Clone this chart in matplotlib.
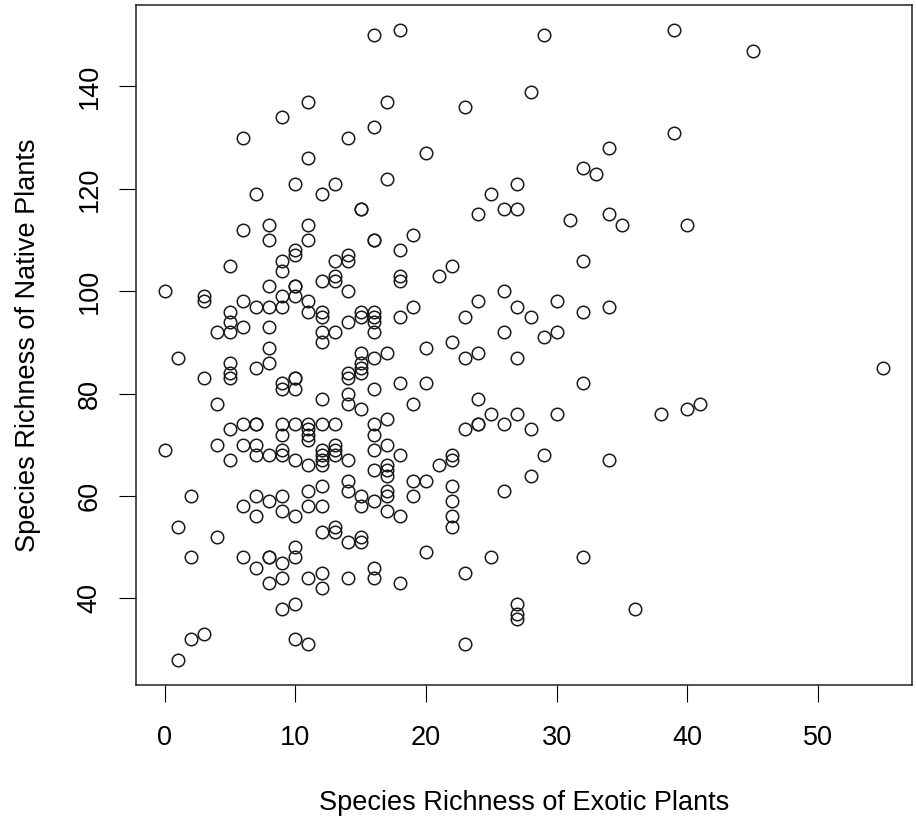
import matplotlib
matplotlib.use("Agg")
import matplotlib.pyplot as plt

# species richness per site, grouped by number of exotic species
exotic = ([0] * 2 + [1] * 3 + [2] * 3 + [3] * 4 + [4] * 4 + [5] * 9 + [6] * 8 + [7] * 10
          + [8] * 12 + [9] * 16 + [10] * 16 + [11] * 15 + [12] * 17 + [13] * 11
          + [14] * 14 + [15] * 13 + [16] * 17 + [17] * 11 + [18] * 9 + [19] * 5
          + [20] * 5 + [21] * 2 + [22] * 8 + [23] * 6 + [24] * 6 + [25] * 3
          + [26] * 5 + [27] * 8 + [28] * 4 + [29] * 3 + [30] * 3 + [31] * 1
          + [32] * 5 + [33] * 1 + [34] * 4 + [35] * 1 + [36] * 1 + [38] * 1
          + [39] * 2 + [40] * 2 + [41] * 1 + [45] * 1 + [55] * 1)

native = [
    100, 69,
    87, 54, 28,
    60, 48, 32,
    99, 98, 83, 33,
    92, 78, 70, 52,
    105, 96, 94, 92, 86, 84, 83, 73, 67,
    130, 112, 98, 93, 74, 70, 58, 48,
    119, 97, 85, 74, 74, 70, 68, 60, 56, 46,
    113, 110, 101, 97, 93, 89, 86, 68, 59, 48, 48, 43,
    134, 106, 104, 99, 97, 82, 81, 74, 72, 69, 68, 60, 57, 47, 44, 38,
    121, 108, 107, 101, 101, 99, 83, 83, 81, 74, 67, 56, 50, 48, 39, 32,
    137, 126, 113, 110, 98, 96, 74, 73, 72, 71, 66, 61, 58, 44, 31,
    119, 102, 96, 95, 92, 90, 79, 74, 69, 68, 67, 66, 62, 58, 53, 45, 42,
    121, 106, 103, 102, 92, 74, 70, 69, 68, 54, 53,
    130, 107, 106, 100, 94, 84, 83, 80, 78, 67, 63, 61, 51, 44,
    116, 116, 96, 95, 88, 86, 85, 84, 77, 60, 58, 52, 51,
    150, 132, 110, 110, 96, 95, 94, 92, 87, 81, 74, 72, 69, 65, 59, 46, 44,
    137, 122, 88, 75, 70, 66, 65, 64, 61, 60, 57,
    151, 108, 103, 102, 95, 82, 68, 56, 43,
    111, 97, 78, 63, 60,
    127, 89, 82, 63, 49,
    103, 66,
    105, 90, 68, 67, 62, 59, 56, 54,
    136, 95, 87, 73, 45, 31,
    115, 98, 88, 79, 74, 74,
    119, 76, 48,
    116, 100, 92, 74, 61,
    121, 116, 97, 87, 76, 39, 37, 36,
    139, 95, 73, 64,
    150, 91, 68,
    98, 92, 76,
    114,
    124, 106, 96, 82, 48,
    123,
    128, 115, 97, 67,
    113,
    38,
    76,
    151, 131,
    113, 77,
    78,
    147,
    85,
]

x_ticks = [0, 10, 20, 30, 40, 50]
y_ticks = [40, 60, 80, 100, 120, 140]

plt.rcParams['font.family'] = ['Liberation Sans', 'DejaVu Sans']

fig = plt.figure(figsize=(9.16, 8.19), dpi=100)
ax = fig.add_axes([136 / 916, 1 - 685 / 819, 776 / 916, 680 / 819])

ax.plot(exotic, native, 'o', ms=9.0, mfc='none', mec='#1a1a1a', mew=1.1)

ax.set_xlim(-2.2, 57.2)
ax.set_ylim(23.08, 155.92)
ax.set_xticks(x_ticks)
ax.set_yticks(y_ticks)

for s in ax.spines.values():
    s.set_linewidth(1.1)
    s.set_color('#222222')

ax.tick_params(axis='both', direction='out', length=12, width=0.8,
               labelsize=19.5, colors='black')
ax.tick_params(axis='x', pad=17)
ax.tick_params(axis='y', pad=12)
for lab in ax.get_yticklabels():
    lab.set_rotation(90)
    lab.set_va('center')

ax.set_xlabel('Species Richness of Exotic Plants', fontsize=19.5, labelpad=28)
ax.set_ylabel('Species Richness of Native Plants', fontsize=19.5, labelpad=26)

fig.savefig('out.png', dpi=100)
